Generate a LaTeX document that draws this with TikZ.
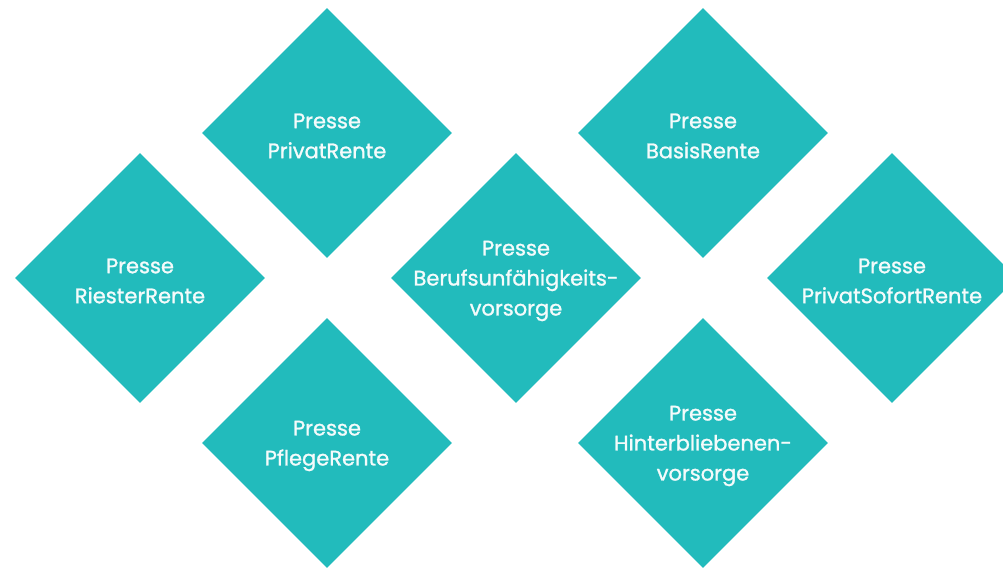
\documentclass[tikz,border=0pt]{standalone}
\usepackage{fontspec}
\setmainfont{Poppins}[FakeBold=1.2,AutoFakeBold=1.2]
\usetikzlibrary{shapes.geometric}
\definecolor{tealtile}{HTML}{22BBBC}
\definecolor{tiletxt}{HTML}{F4FBFB}

\tikzset{
  tile/.style={diamond, fill=tealtile, minimum width=250pt, minimum height=250pt,
    inner sep=0pt, aspect=1},
  tiletext/.style={text=tiletxt, font=\fontsize{21}{30}\selectfont, align=center,
    inner sep=0pt, yshift=-3pt}
}

\begin{document}
\begin{tikzpicture}[x=1pt, y=-1pt]

% Canvas, origin top left
\useasboundingbox (0,0) rectangle (1003,569);

% ================================================================
% Top row
% ================================================================
\node[tile, label={[tiletext]center:Presse\\PrivatRente}] (privat) at (327,133) {};
\node[tile, label={[tiletext]center:Presse\\BasisRente}] (basis) at (703,133) {};

% ================================================================
% Middle row
% ================================================================
\node[tile, label={[tiletext]center:Presse\\RiesterRente}] (riester) at (140,278) {};
\node[tile, label={[tiletext]center:Presse\\Berufsunfähigkeits-\\vorsorge}] (beruf) at (516,278) {};
\node[tile, label={[tiletext]center:Presse\\PrivatSofortRente}] (sofort) at (892,278) {};

% ================================================================
% Bottom row
% ================================================================
\node[tile, label={[tiletext]center:Presse\\PflegeRente}] (pflege) at (327,443) {};
\node[tile, label={[tiletext]center:Presse\\Hinterbliebenen-\\vorsorge}] (hinter) at (703,443) {};

\end{tikzpicture}
\end{document}
